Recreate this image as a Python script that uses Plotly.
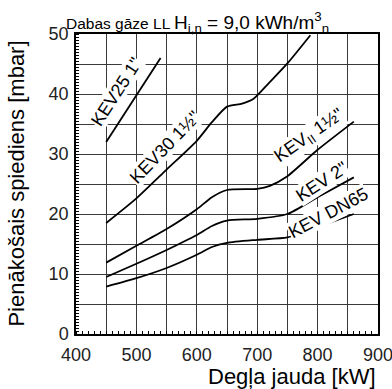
import plotly.graph_objects as go

# Data (burner output kW vs required pressure mbar)
kw_kev25 = [450, 540]
p_kev25 = [32.0, 46.0]

kw_kev30 = [450, 500, 550, 600, 625, 650, 675, 694, 720, 750, 788]
p_kev30 = [18.5, 22.6, 27.4, 32.2, 35.3, 37.9, 38.4, 39.2, 41.9, 45.1, 49.8]

kw_kevii = [450, 500, 550, 600, 625, 650, 700, 721, 750, 800, 860]
p_kevii = [11.9, 14.7, 17.5, 20.8, 22.8, 24.0, 24.2, 24.7, 26.3, 30.7, 35.4]

kw_kev2 = [450, 500, 550, 600, 625, 650, 700, 750, 800, 860]
p_kev2 = [9.5, 11.7, 14.0, 16.5, 18.0, 18.9, 19.2, 20.0, 22.8, 26.1]

kw_dn65 = [450, 500, 550, 600, 625, 650, 700, 750, 800, 860]
p_dn65 = [7.9, 9.3, 11.0, 13.2, 14.5, 15.2, 15.7, 16.1, 17.8, 20.0]

x_tickvals = list(range(400, 901, 50))
x_ticktext = [str(v) if v % 100 == 0 else "" for v in x_tickvals]
y_tickvals = list(range(0, 51, 5))
y_ticktext = [str(v) if v % 10 == 0 else "" for v in y_tickvals]

FONT = "Liberation Sans, Arial, sans-serif"

fig = go.Figure()
for xs, ys in [(kw_kev25, p_kev25), (kw_kev30, p_kev30), (kw_kevii, p_kevii),
               (kw_kev2, p_kev2), (kw_dn65, p_dn65)]:
    fig.add_trace(go.Scatter(x=xs, y=ys, mode="lines",
                             line=dict(color="black", width=1.8, shape="spline", smoothing=0.6),
                             showlegend=False, hoverinfo="skip"))

labels = [
    (467, 40.3, "KEV25 1\"", -57),
    (548, 31.1, "KEV30 1½\"", -46),
    (786, 32.9, "KEV<sub>II</sub> 1½\"", -35),
    (806, 25.4, "KEV 2\"", -33),
    (818, 20.1, "KEV DN65", -28),
]
for x, y, t, a in labels:
    fig.add_annotation(x=x, y=y, text=t, textangle=a, showarrow=False,
                       font=dict(family=FONT, size=18, color="black"),
                       bgcolor="white", borderpad=0)

fig.add_annotation(xref="paper", yref="paper", x=-0.04, y=1.0, xanchor="left", yanchor="bottom",
                   text="Dabas gāze LL", showarrow=False, yshift=0,
                   font=dict(family=FONT, size=15.5, color="black"))
fig.add_annotation(xref="paper", yref="paper", x=0.318, y=1.0, xanchor="left", yanchor="bottom",
                   text="H<sub>i,n</sub> = 9,0 kWh/m<sup>3</sup><sub>n</sub>", showarrow=False, yshift=-4,
                   font=dict(family=FONT, size=19, color="black"))
fig.add_annotation(xref="paper", yref="paper", x=1.0, y=-0.14, xanchor="right", yanchor="middle",
                   text="Degļa jauda [kW]", showarrow=False,
                   font=dict(family=FONT, size=22, color="black"))
fig.add_annotation(xref="paper", yref="paper", x=-0.2, y=0.5, xanchor="center", yanchor="middle",
                   text="Pienākošais spiediens [mbar]", showarrow=False, textangle=-90,
                   font=dict(family=FONT, size=22, color="black"))

fig.update_xaxes(range=[400, 900], tickvals=x_tickvals, ticktext=x_ticktext,
                 showgrid=True, gridcolor="#3a3a3a", gridwidth=1,
                 showline=True, linecolor="black", linewidth=1.5, mirror=True,
                 ticks="", tickfont=dict(family=FONT, size=18, color="#222"),
                 ticklabeloverflow="allow", ticklabelstandoff=4,
                 minor=dict(dtick=10, ticks="inside", ticklen=3, tickcolor="black", showgrid=False),
                 zeroline=False, fixedrange=True, automargin=False)
fig.update_yaxes(range=[0, 50], tickvals=y_tickvals, ticktext=y_ticktext,
                 showgrid=True, gridcolor="#3a3a3a", gridwidth=1,
                 showline=True, linecolor="black", linewidth=1.5, mirror=True,
                 ticks="", tickfont=dict(family=FONT, size=18, color="#222"),
                 ticklabelstandoff=2, ticklabeloverflow="allow",
                 minor=dict(dtick=0.5, ticks="inside", ticklen=3, tickcolor="black", showgrid=False),
                 zeroline=False, fixedrange=True, automargin=False)

fig.update_layout(width=392, height=389, margin=dict(l=76, r=14, t=34, b=55),
                  plot_bgcolor="white", paper_bgcolor="white",
                  font=dict(family=FONT, color="black"), showlegend=False)

fig.write_html("out.html", config={"displayModeBar": False},
               post_script="document.body.style.margin='0';document.body.style.overflow='hidden';")
